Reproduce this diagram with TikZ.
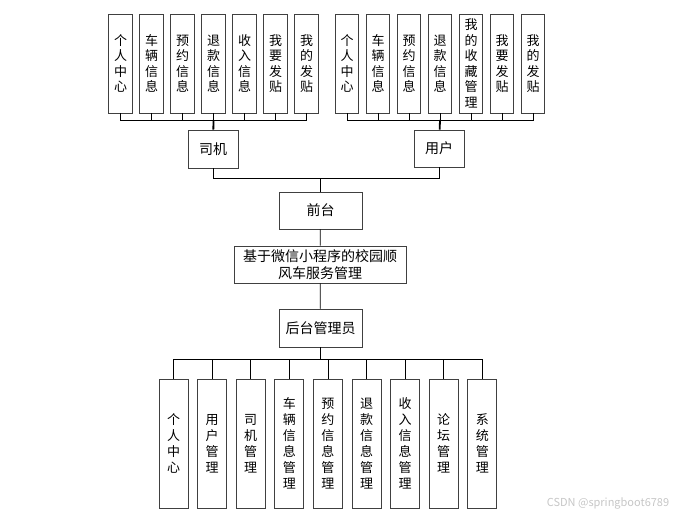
\documentclass[tikz,border=0pt]{standalone}
\usepackage{fontspec}
\newfontfamily\cjk{Noto Sans CJK SC}
\tikzset{
  box/.style={draw=black!75,line width=0.8pt,fill=white,inner sep=0pt,align=center,font=\cjk\fontsize{14}{17}\selectfont},
  vbox/.style={box,font=\cjk\fontsize{13}{15.5}\selectfont,minimum width=23.5,minimum height=99},
  abox/.style={box,font=\cjk\fontsize{13}{16}\selectfont,minimum width=29,minimum height=129},
  link/.style={black,line width=0.8pt},
  stub/.style={black,line width=1.8pt}
}
\begin{document}
\begin{tikzpicture}[x=1pt,y=-1pt]
  \useasboundingbox (0,0) rectangle (685,516);
  \node[box,minimum width=50,minimum height=38] (siji) at (213,149) {司机};
  \node[box,minimum width=50,minimum height=37] (yonghu) at (439,148.5) {用户};
  \node[box,minimum width=83,minimum height=37] (qiantai) at (320.5,210.5) {前台};
  \node[box,minimum width=172,minimum height=37] (main) at (320,264.5) {基于微信小程序的校园顺\\风车服务管理};
  \node[box,minimum width=83,minimum height=38] (houtai) at (320.5,328) {后台管理员};
  \coordinate (dbus) at (213.5,120);
  \coordinate (ubus) at (440,120);
  \coordinate (fbus) at (320.5,178);
  \coordinate (abus) at (320.5,359);
  \foreach \i/\l in {1/个\\人\\中\\心,2/车\\辆\\信\\息,3/预\\约\\信\\息,4/退\\款\\信\\息,5/收\\入\\信\\息,6/我\\要\\发\\贴,7/我\\的\\发\\贴}
    {\node[vbox] (d\i) at (120.5+31*\i-31,63.5) {\l}; \draw[link] (d\i.south) |- (dbus);}
  \foreach \i/\l in {1/个\\人\\中\\心,2/车\\辆\\信\\息,3/预\\约\\信\\息,4/退\\款\\信\\息,5/我\\的\\收\\藏\\管\\理,6/我\\要\\发\\贴,7/我\\的\\发\\贴}
    {\node[vbox] (u\i) at (347+31*\i-31,63.5) {\l}; \draw[link] (u\i.south) |- (ubus);}
  \foreach \i/\l in {1/个\\人\\中\\心,2/用\\户\\管\\理,3/司\\机\\管\\理,4/车\\辆\\信\\息\\管\\理,5/预\\约\\信\\息\\管\\理,6/退\\款\\信\\息\\管\\理,7/收\\入\\信\\息\\管\\理,8/论\\坛\\管\\理,9/系\\统\\管\\理}
    {\node[abox] (a\i) at (173.5+38.6*\i-38.6,443.5) {\l}; \draw[link] (a\i.north) |- (abus);}
  \draw[stub] (dbus) -- (siji);
  \draw[stub] (ubus) -- (yonghu);
  \draw[link] (siji) |- (fbus);
  \draw[link] (yonghu) |- (fbus);
  \draw[link] (fbus) -- (qiantai);
  \draw[link] (qiantai) -- (main);
  \draw[link] (main) -- (houtai);
  \draw[stub] (houtai) -- (abus);
  \node[text=gray!45,font=\cjk\fontsize{11}{13}\selectfont] (mark) at (608,503) {CSDN @springboot6789};
\end{tikzpicture}
\end{document}
